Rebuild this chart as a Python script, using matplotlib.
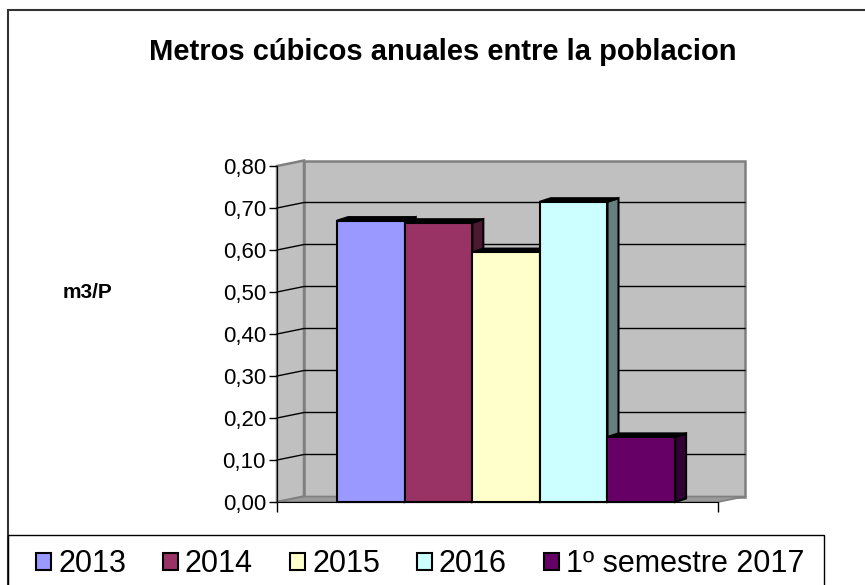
import numpy as np
import matplotlib
matplotlib.use("Agg")
import matplotlib.pyplot as plt
from matplotlib.patches import Polygon, Rectangle, Patch
from matplotlib.ticker import FuncFormatter

plt.rcParams['font.family'] = ['Liberation Sans', 'DejaVu Sans']

# data
series = ['2013', '2014', '2015', '2016', '1º semestre 2017']
values = [0.67, 0.665, 0.595, 0.715, 0.155]
colors = ['#9999FF', '#993366', '#FFFFCC', '#CCFFFF', '#660066']
side_colors = ['#4C4C80', '#4C1933', '#808066', '#668080', '#330033']
yticks = [0.0, 0.1, 0.2, 0.3, 0.4, 0.5, 0.6, 0.7, 0.8]

W, H = 865, 585
fig = plt.figure(figsize=(W / 100, H / 100), dpi=100)

# front plane of the plot, in pixels
px_left, px_right, px_top, px_bottom = 277, 718, 166, 502
ax = fig.add_axes([px_left / W, 1 - px_bottom / H,
                   (px_right - px_left) / W, (px_bottom - px_top) / H])

x = np.arange(len(values))
x0, x1 = -1.39, 5.135
ymax = 0.8
ax.set_xlim(x0, x1)
ax.set_ylim(0, ymax)

sx = (px_right - px_left) / (x1 - x0)
sy = (px_bottom - px_top) / ymax
# depth of the walls and bars, pixels -> data
DX, DY = 27 / sx, 5.5 / sy
bdx, bdy = 11 / sx, 3.5 / sy

wall = '#C0C0C0'
edge = '#808080'

# back wall and side wall
ax.add_patch(Rectangle((x0 + DX, DY), x1 - x0, ymax, facecolor=wall,
                       edgecolor=edge, lw=1.8, clip_on=False, zorder=1))
ax.add_patch(Polygon([(x0, 0), (x0, ymax), (x0 + DX, ymax + DY), (x0 + DX, DY)],
                     closed=True, facecolor=wall, edgecolor=edge, lw=1.8,
                     clip_on=False, zorder=1))
# floor
ax.add_patch(Polygon([(x0, 0), (x1, 0), (x1 + DX, DY), (x0 + DX, DY)],
                     closed=True, facecolor='#9A9A9A', edgecolor=edge, lw=1.2,
                     clip_on=False, zorder=1))

# gridlines on side and back walls
for v in yticks[1:-1]:
    ax.plot([x0, x0 + DX, x1 + DX], [v, v + DY, v + DY], color='black',
            lw=1.0, clip_on=False, zorder=2)

# 3d columns, left to right so the next front hides the previous side
for i, v in enumerate(values):
    left, right = x[i] - 0.5, x[i] + 0.5
    z = 5 + 3 * i
    ax.add_patch(Polygon([(right, 0), (right, v), (right + bdx, v + bdy), (right + bdx, bdy)],
                         closed=True, facecolor=side_colors[i], edgecolor='black',
                         lw=1.5, clip_on=False, zorder=z))
    ax.add_patch(Polygon([(left, v), (right, v), (right + bdx, v + bdy), (left + bdx, v + bdy)],
                         closed=True, facecolor='black', edgecolor='black',
                         lw=1.5, clip_on=False, zorder=z + 1))
    ax.bar(x[i], v, width=1.0, color=colors[i], edgecolor='black', lw=1.5,
           zorder=z + 2, clip_on=False)

# axes
for s in ['top', 'right']:
    ax.spines[s].set_visible(False)
ax.spines['left'].set_color('black')
ax.spines['bottom'].set_color('black')
ax.spines['left'].set_zorder(30)
ax.spines['bottom'].set_zorder(30)
ax.set_yticks(yticks)
ax.yaxis.set_major_formatter(FuncFormatter(lambda v, p: f"{v:.2f}".replace('.', ',')))
ax.tick_params(axis='y', direction='out', length=6, width=1, labelsize=16, pad=2)
ax.set_xticks([x0, x1])
ax.set_xticklabels([])
ax.tick_params(axis='x', direction='out', length=7, width=1)
ax.patch.set_visible(False)

# texts
fig.text(443 / W, 1 - 60 / H, 'Metros cúbicos anuales entre la poblacion',
         ha='center', va='baseline', fontsize=21, fontweight='bold')
fig.text(88 / W, 1 - 292 / H, 'm3/P', ha='center', va='center',
         fontsize=15, fontweight='bold')

# outer chart border
fig.patches.append(Rectangle((8 / W, -0.1), 1.0, 1.1 - 10 / H, transform=fig.transFigure,
                             fill=False, edgecolor='#333333', lw=1.5))

# legend box
fig.patches.append(Rectangle((8 / W, -0.1), (824 - 8) / W, 0.1 + 1 - 535 / H,
                             transform=fig.transFigure, fill=False,
                             edgecolor='black', lw=1.0))
fs = 22
em = fs * 100 / 72
handles = [Patch(facecolor=c, edgecolor='black', lw=1.5) for c in colors]
leg = fig.legend(handles, series, loc='center left', ncol=5,
                 bbox_to_anchor=(36 / W, 1 - 564 / H),
                 fontsize=fs, frameon=False, handlelength=15 / em,
                 handleheight=15 / em, handletextpad=7 / em, borderaxespad=0,
                 borderpad=0, columnspacing=37 / em)

fig.savefig('out.png', dpi=100)
